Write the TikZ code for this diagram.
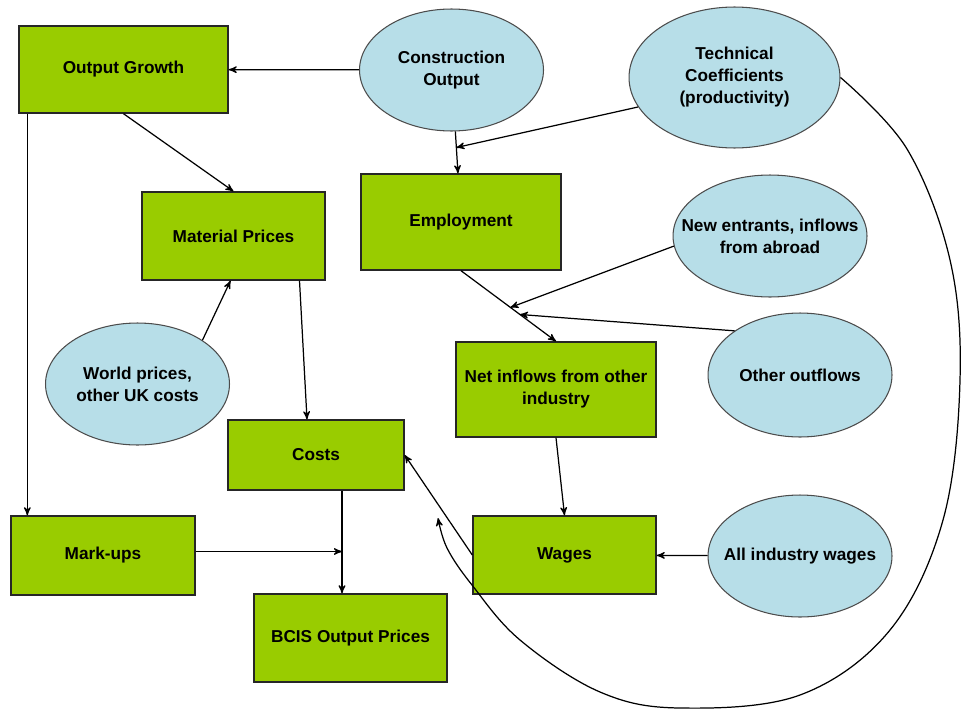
\documentclass[tikz,border=0pt]{standalone}
\usepackage{fontspec}
\setmainfont{Liberation Sans}
\usepackage{tikz}
\usetikzlibrary{shapes,arrows,calc}
\definecolor{boxgreen}{HTML}{99CC00}
\definecolor{ovalblue}{HTML}{B7DEE8}
\tikzstyle{block} = [draw=black!85, fill=boxgreen, rectangle, line width=0.8pt, align=center, inner sep=0pt, font=\bfseries\fontsize{9.8}{12.5}\selectfont]
\tikzstyle{oval} = [draw=black!70, fill=ovalblue, ellipse, line width=0.6pt, inner sep=0pt]
\tikzstyle{ovaltext} = [align=center, font=\bfseries\fontsize{9.8}{12.5}\selectfont]

\begin{document}
\begin{tikzpicture}[->,>=stealth',x=0.02cm,y=-0.02cm,line width=0.7pt]
\useasboundingbox (0,0) rectangle (962,710);

% boxes
\node[block, minimum width=4.18cm, minimum height=1.74cm] (og) at (123.5,69.5) {Output Growth};
\node[block, minimum width=3.66cm, minimum height=1.76cm] (mp) at (233.5,236) {Material Prices};
\node[block, minimum width=4.00cm, minimum height=1.92cm] (emp) at (461,222) {Employment};
\node[block, minimum width=4.00cm, minimum height=1.90cm] (net) at (556,389.5) {Net inflows from other\\industry};
\node[block, minimum width=3.52cm, minimum height=1.40cm] (costs) at (316,455) {Costs};
\node[block, minimum width=3.68cm, minimum height=1.58cm] (mu) at (103,555.5) {Mark-ups};
\node[block, minimum width=3.66cm, minimum height=1.56cm] (wages) at (564.5,555) {Wages};
\node[block, minimum width=3.86cm, minimum height=1.76cm] (bcis) at (350.5,638) {BCIS Output Prices};

% ovals (text as centre labels so the ellipse keeps its size)
\node[oval, minimum width=3.68cm, minimum height=2.44cm, label={[ovaltext]center:Construction\\Output}] (co) at (451.5,70) {};
\node[oval, minimum width=4.22cm, minimum height=2.82cm, label={[ovaltext]center:Technical\\Coefficients\\(productivity)}] (tc) at (734.5,77.5) {};
\node[oval, minimum width=3.88cm, minimum height=2.44cm, label={[ovaltext]center:New entrants, inflows\\from abroad}] (ne) at (770,236) {};
\node[oval, minimum width=3.68cm, minimum height=2.48cm, label={[ovaltext]center:Other outflows}] (oo) at (800,375) {};
\node[oval, minimum width=3.68cm, minimum height=2.44cm, label={[ovaltext]center:World prices,\\other UK costs}] (wp) at (137.5,384) {};
\node[oval, minimum width=3.68cm, minimum height=2.44cm, label={[ovaltext]center:All industry wages}] (aiw) at (800,556) {};

% joins
\coordinate (j1) at ($(co)!0.51!(emp)$);
\coordinate (j2) at ($(emp.south)!0.52!(net.north)$);
\coordinate (j3) at ($(emp.south)!0.62!(net.north)$);
\coordinate (ol) at ($(og.south west)+(9,0)$);
\coordinate (mw) at ($(mp.south)+(-3,0)$);
\coordinate (ms) at ($(mp.south)+(66,0)$);
\coordinate (cn) at ($(costs.north)+(-9,0)$);
\coordinate (cb) at ($(costs.south)+(26,0)$);
\coordinate (me) at ($(mu.east)+(0,-4)$);
\coordinate (ce) at (438,518);

\path
(co) edge (og)
(co) edge (emp)
(tc.197) edge (j1)
(og.south) edge (mp.north)
(wp.34) edge (mw)
(ms) edge (cn)
(emp.south) edge (net.north)
(ne.186) edge (j2)
(oo.146) edge (j3)
(net.south) edge (wages.north)
(aiw) edge (wages)
(wages.west) edge (costs.east);

\draw (ol) -- (ol |- mu.north);
\draw (cb) -- (cb |- bcis.north);
\draw (me) -- (me -| cb);

\draw plot[smooth, tension=0.6] coordinates {(tc.east) (907,149) (950,260) (960,380) (943,520) (890,630) (800,695) (680,708) (600,692) (520,640) (472,585) (447,548) (ce)};
\end{tikzpicture}
\end{document}
